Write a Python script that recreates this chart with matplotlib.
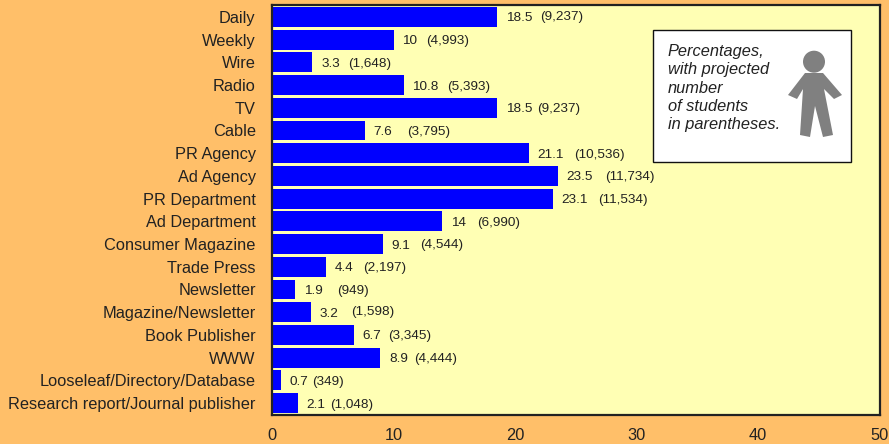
import matplotlib
matplotlib.use("Agg")
import matplotlib.pyplot as plt
from matplotlib.patches import Rectangle, Circle, Polygon
from matplotlib.transforms import Affine2D

categories = ["Daily", "Weekly", "Wire", "Radio", "TV", "Cable", "PR Agency", "Ad Agency",
              "PR Department", "Ad Department", "Consumer Magazine", "Trade Press", "Newsletter",
              "Magazine/Newsletter", "Book Publisher", "WWW", "Looseleaf/Directory/Database",
              "Research report/Journal publisher"]
percent = [18.5, 10, 3.3, 10.8, 18.5, 7.6, 21.1, 23.5, 23.1, 14, 9.1, 4.4, 1.9, 3.2, 6.7, 8.9, 0.7, 2.1]
counts = ["(9,237)", "(4,993)", "(1,648)", "(5,393)", "(9,237)", "(3,795)", "(10,536)", "(11,734)",
          "(11,534)", "(6,990)", "(4,544)", "(2,197)", "(949)", "(1,598)", "(3,345)", "(4,444)",
          "(349)", "(1,048)"]
count_gaps_px = [34.5, 23.5, 27, 35, 31.5, 33.5, 36.7, 39, 37, 26.5, 29, 28.3, 33, 31, 25.5, 25.5, 22.5, 24]
count_rise_px = [1.5, 0, 0, 0, 0, 0, 0, 0, 0, 0, 0.7, 0, 0, 2, 0, 0, 0, 0]
xticks = [0, 10, 20, 30, 40, 50]
note = "Percentages,\nwith projected\nnumber\nof students\nin parentheses."

W, H = 889, 444
BG, PLOT, BAR, INK = "#FFBF69", "#FFFFB4", "#0000FF", "#222222"
plt.rcParams["font.family"] = ["Liberation Sans", "DejaVu Sans"]

fig = plt.figure(figsize=(W / 100, H / 100), dpi=100, facecolor=BG)
L, R, T, B = 272.4, 879.5, 5, 415
ax = fig.add_axes([L / W, 1 - B / H, (R - L) / W, (B - T) / H], facecolor=PLOT)
y = list(range(len(categories)))
ax.barh(y, percent, height=0.875, color=BAR, edgecolor="none")
ax.set_xlim(0, 50)
ax.set_ylim(len(categories) - 1 + 0.528, -0.524)
ax.set_yticks(y, categories, fontsize=11.75, color=INK)
ax.set_xticks(xticks, [str(t) for t in xticks], fontsize=11.75, color=INK)
ax.tick_params(axis="both", length=0)
ax.tick_params(axis="y", pad=12)
ax.tick_params(axis="x", pad=9.5)
for s in ax.spines.values():
    s.set_linewidth(1.6)
    s.set_color(INK)

for i, (p, c, g, r) in enumerate(zip(percent, counts, count_gaps_px, count_rise_px)):
    ax.annotate(f"{p:g}", (p, i), xytext=(8.6 * 0.72, -1.5 * 0.72), textcoords="offset points",
                fontsize=9.7, color=INK, va="center", ha="left")
    ax.annotate(c, (p, i), xytext=((8.6 + g) * 0.72, (r - 1.5) * 0.72), textcoords="offset points",
                fontsize=9.7, color=INK, va="center", ha="left")

# pixel coordinates measured from the top-left corner of the figure
px = Affine2D().scale(1, -1).translate(0, H)
fig.add_artist(Rectangle((652.5, 29.5), 198, 132, transform=px, facecolor="white",
                         edgecolor="#111111", linewidth=1))
fig.text(668 / W, 1 - 44 / H, note, fontsize=11.8, style="italic", color=INK,
         va="top", ha="left", linespacing=1.28)
gray = "#808080"
fig.add_artist(Circle((814, 61.7), 11, transform=px, facecolor=gray, edgecolor="none"))
fig.add_artist(Polygon([(805, 73), (823, 73), (842, 95), (834, 99), (824, 89), (833, 135),
                        (823, 137), (815, 106), (810, 137), (800, 135), (803, 89), (797, 99),
                        (788, 95)],
                       closed=True, transform=px, facecolor=gray, edgecolor="none"))
fig.savefig("out.png", dpi=100, facecolor=BG)
